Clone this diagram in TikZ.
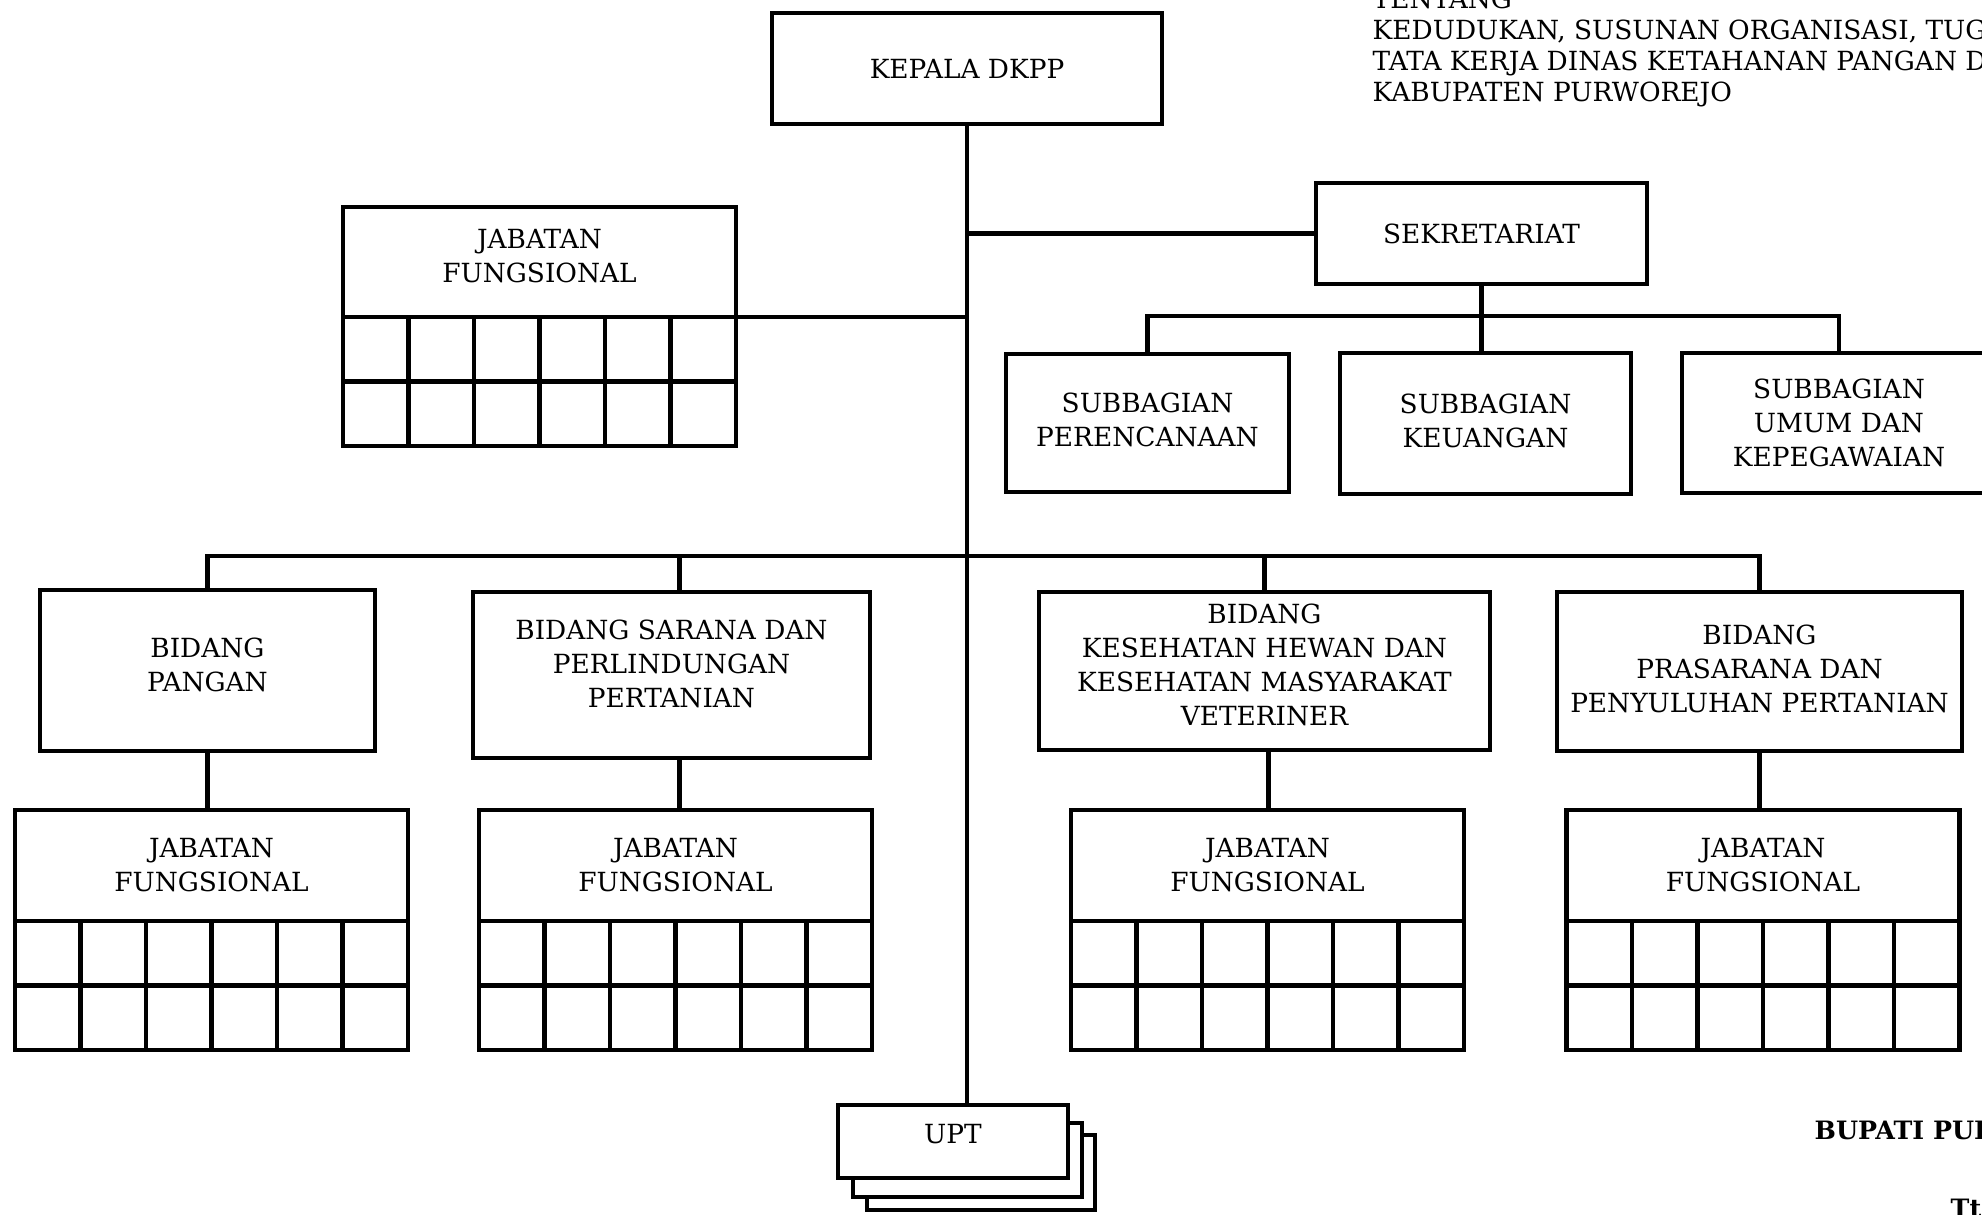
\documentclass[tikz,border=0pt]{standalone}
\usepackage{fontspec}
\setmainfont{DejaVu Serif}
\usepackage{tikz}
\usetikzlibrary{positioning}
\tikzstyle{garis} = [line width=1.2pt]
\tikzstyle{kotak} = [draw, line width=1.2pt, align=center, inner sep=0pt, outer sep=0pt, fill=white, font=\fontsize{7.5}{9.7}\selectfont]
\tikzstyle{naik} = [text depth=0.12cm]
\tikzstyle{judul} = [anchor=base west, inner sep=0pt, font=\fontsize{7.5}{9}\selectfont]

\begin{document}
\begin{tikzpicture}
\useasboundingbox (0,0) rectangle (19.82,-12.14);
\clip (0,0) rectangle (19.82,-12.14);

% kepala dan sekretariat
\node[kotak, minimum width=3.9cm, minimum height=1.11cm] (kepala) at (9.67,-0.685) {KEPALA DKPP};
\node[kotak, minimum width=3.31cm, minimum height=1.01cm] (sek) at (14.815,-2.335) {SEKRETARIAT};
\node[kotak, minimum width=2.83cm, minimum height=1.38cm, text depth=0.06cm] (per) at (11.475,-4.23) {SUBBAGIAN\\PERENCANAAN};
\node[kotak, minimum width=2.91cm, minimum height=1.41cm, text depth=0.06cm] (keu) at (14.855,-4.235) {SUBBAGIAN\\KEUANGAN};
\node[kotak, minimum width=3.14cm, minimum height=1.40cm] (umum) at (18.39,-4.23) {SUBBAGIAN\\UMUM DAN\\KEPEGAWAIAN};

% bidang
\node[kotak, naik, minimum width=3.35cm, minimum height=1.61cm] (pangan) at (2.075,-6.705) {BIDANG\\PANGAN};
\node[kotak, minimum width=3.97cm, minimum height=1.66cm, text depth=0.22cm] (sarana) at (6.715,-6.75) {BIDANG SARANA DAN\\PERLINDUNGAN\\PERTANIAN};
\node[kotak, naik, minimum width=4.51cm, minimum height=1.58cm] (keswan) at (12.645,-6.71) {BIDANG\\KESEHATAN HEWAN DAN\\KESEHATAN MASYARAKAT\\VETERINER};
\node[kotak, text depth=0.06cm, minimum width=4.05cm, minimum height=1.59cm] (prasarana) at (17.595,-6.715) {BIDANG\\PRASARANA DAN\\PENYULUHAN PERTANIAN};

% jabatan fungsional
\node[kotak, naik, minimum width=3.93cm, minimum height=1.10cm] (jab0) at (5.395,-2.62) {JABATAN\\FUNGSIONAL};
\node[kotak, minimum width=3.93cm, minimum height=1.11cm] (jab1) at (2.115,-8.655) {JABATAN\\FUNGSIONAL};
\node[kotak, minimum width=3.93cm, minimum height=1.11cm] (jab2) at (6.755,-8.655) {JABATAN\\FUNGSIONAL};
\node[kotak, minimum width=3.93cm, minimum height=1.11cm] (jab3) at (12.675,-8.655) {JABATAN\\FUNGSIONAL};
\node[kotak, minimum width=3.93cm, minimum height=1.11cm] (jab4) at (17.63,-8.655) {JABATAN\\FUNGSIONAL};
\foreach \j in {jab0,jab1,jab2,jab3,jab4}{
  \draw[garis] (\j.south west) rectangle ++(3.93,-1.29);
  \draw[garis] ([yshift=-0.645cm]\j.south west) -- ++(3.93,0);
  \foreach \k in {1,...,5}
    \draw[garis] ([xshift=\k*0.655cm]\j.south west) -- ++(0,-1.29);
}

% upt
\node[kotak, minimum width=2.28cm, minimum height=0.75cm] (upt3) at (9.81,-11.725) {};
\node[kotak, minimum width=2.29cm, minimum height=0.74cm] (upt2) at (9.675,-11.60) {};
\node[kotak, minimum width=2.30cm, minimum height=0.73cm, text depth=0.16cm] (upt) at (9.53,-11.415) {UPT};

% garis
\coordinate (sekbus) at (14.84,-3.16);
\coordinate (bus) at (9.66,-5.56);
\draw[garis] (kepala.south) -- (kepala.south |- upt.north);
\draw[garis] (kepala.south |- sek.west) -- (sek.west);
\draw[garis] (jab0.south east) -- (jab0.south east -| kepala.south);
\draw[garis] (sek.south) -- (sek.south |- keu.north);
\draw[garis] (per.north) -- (per.north |- sekbus) -- (umum.north |- sekbus) -- (umum.north);
\draw[garis] (pangan.north) -- (pangan.north |- bus) -- (prasarana.north |- bus) -- (prasarana.north);
\draw[garis] ([xshift=0.08cm]sarana.north) -- ([xshift=0.08cm]sarana.north |- bus);
\draw[garis] (keswan.north) -- (keswan.north |- bus);
\draw[garis] (pangan.south) -- (pangan.south |- jab1.north);
\draw[garis] ([xshift=0.08cm]sarana.south) -- ([xshift=0.08cm]sarana.south |- jab2.north);
\draw[garis] ([xshift=0.04cm]keswan.south) -- ([xshift=0.04cm]keswan.south |- jab3.north);
\draw[garis] (prasarana.south) -- (prasarana.south |- jab4.north);

% teks pojok
\foreach \t [count=\i] in {TENTANG, {KEDUDUKAN, SUSUNAN ORGANISASI, TUGAS}, {TATA KERJA DINAS KETAHANAN PANGAN DAN}, {KABUPATEN PURWOREJO}}
  \node[judul] (judul\i) at (13.72,{-0.08-0.31*(\i-1)}) {\t};
\node[judul, font=\fontsize{7.2}{9}\selectfont\bfseries] (bupati) at (18.14,-11.39) {BUPATI PURWOREJO};
\node[judul, font=\fontsize{7.2}{9}\selectfont\bfseries] (ttd) at (19.50,-12.17) {Ttd};
\end{tikzpicture}
\end{document}
